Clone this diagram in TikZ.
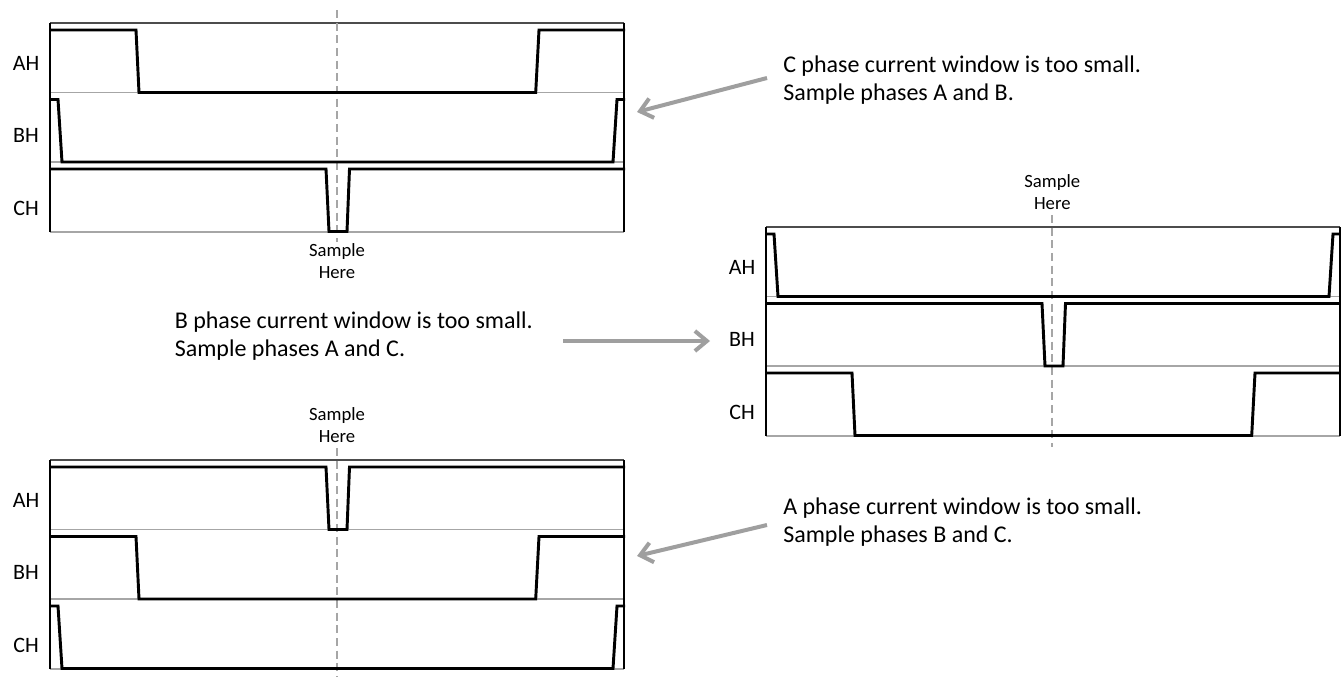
\documentclass[tikz,border=0pt]{standalone}
\usepackage{fontspec}
\setmainfont{Carlito}
\usetikzlibrary{arrows.meta}
\tikzset{
  sig/.style={line width=2.2pt, line join=miter, black},
  frametop/.style={line width=0.8pt, gray!60!black},
  frameside/.style={line width=0.8pt, black},
  sep/.style={line width=0.8pt, gray!70},
  marker/.style={line width=1.5pt, gray!70, dash pattern=on 6pt off 3.5pt},
  chlabel/.style={font=\fontsize{16.5}{20}\selectfont, inner sep=0pt},
  note/.style={font=\fontsize{18}{20.5}\selectfont, align=left, inner sep=0pt},
  samplelbl/.style={font=\fontsize{14}{16.5}\selectfont, align=center, inner sep=0pt},
  callout/.style={line width=3pt, gray!75, -{Straight Barb[length=9pt,width=15pt]}},
  panelframe/.pic={
    \draw[sep] (0,69.5) -- (574,69.5) (0,139) -- (574,139) (0,209) -- (574,209);
    \draw[frametop] (0,0) -- (574,0);
    \draw[frameside] (0,0) -- (0,209) (574,0) -- (574,209);
  },
  wideW/.pic={\draw[sig] (0,7) -- (86,7) -- (89,69.5) -- (485.7,69.5) -- (489,7) -- (575,7);},
  edgeE/.pic={\draw[sig] (0,7) -- (8,7) -- (12,69.5) -- (563,69.5) -- (567,7) -- (575,7);},
  pulseP/.pic={\draw[sig] (0,7) -- (276,7) -- (279,69.5) -- (297,69.5) -- (299.5,7) -- (575,7);},
}
\begin{document}
\begin{tikzpicture}[x=0.75pt,y=-0.75pt]
\useasboundingbox (0,0) rectangle (1341,677);

% ---------- top panel: C window too small ----------
\begin{scope}[shift={(50,23)}]
  \pic at (0,0) {panelframe};
  \draw[marker] (287,-13) -- (287,219);
  \pic at (0,0) {wideW};
  \pic at (0,69.5) {edgeE};
  \pic at (0,139) {pulseP};
  \node[chlabel] (tAH) at (-24,40) {AH};
  \node[chlabel] (tBH) at (-24,112.5) {BH};
  \node[chlabel] (tCH) at (-24,185.5) {CH};
  \node[samplelbl] (tS) at (287,238) {Sample\\Here};
\end{scope}

% ---------- right panel: B window too small ----------
\begin{scope}[shift={(766,227)}]
  \pic at (0,0) {panelframe};
  \draw[marker] (286.3,-12) -- (286.3,220);
  \pic at (0,0) {edgeE};
  \pic at (0,69.5) {pulseP};
  \pic at (0,139) {wideW};
  \node[chlabel] (rAH) at (-24,40) {AH};
  \node[chlabel] (rBH) at (-24,112.5) {BH};
  \node[chlabel] (rCH) at (-24,185.5) {CH};
  \node[samplelbl] (rS) at (286.3,-35) {Sample\\Here};
\end{scope}

% ---------- bottom panel: A window too small ----------
\begin{scope}[shift={(50,460)}]
  \pic at (0,0) {panelframe};
  \draw[marker] (287,-12) -- (287,217);
  \pic at (0,0) {pulseP};
  \pic at (0,69.5) {wideW};
  \pic at (0,139) {edgeE};
  \node[chlabel] (bAH) at (-24,40) {AH};
  \node[chlabel] (bBH) at (-24,112.5) {BH};
  \node[chlabel] (bCH) at (-24,185.5) {CH};
  \node[samplelbl] (bS) at (287,-35) {Sample\\Here};
\end{scope}

% ---------- annotations ----------
\node[note, anchor=west] (cnote) at (783,80) {C phase current window is too small.\\Sample phases A and B.};
\coordinate (cfrom) at (767,78);
\coordinate (cto) at (637,112);
\draw[callout] (cfrom) -- (cto);

\node[note, anchor=east] (bnote) at (533,336) {B phase current window is too small.\\Sample phases A and C.};
\coordinate (bfrom) at (563,341);
\coordinate (bto) at (710,341);
\draw[callout] (bfrom) -- (bto);

\node[note, anchor=west] (anote) at (783,522) {A phase current window is too small.\\Sample phases B and C.};
\coordinate (afrom) at (767,525);
\coordinate (ato) at (637,556);
\draw[callout] (afrom) -- (ato);
\end{tikzpicture}
\end{document}
